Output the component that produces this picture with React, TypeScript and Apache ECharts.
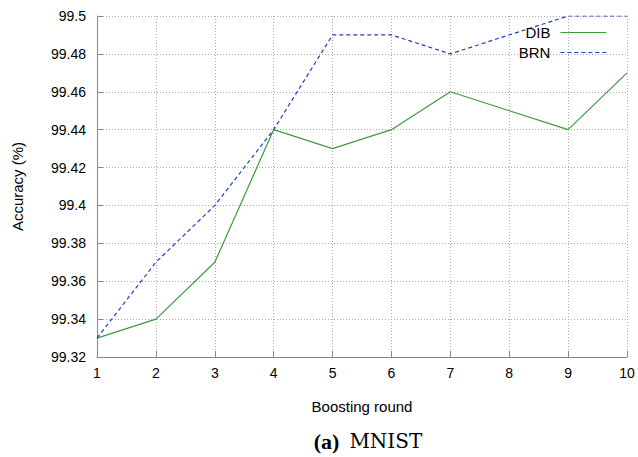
import React, { useEffect, useRef } from "react";
import * as echarts from "echarts";

const rounds = [1, 2, 3, 4, 5, 6, 7, 8, 9, 10];
const dibValues = [99.33, 99.34, 99.37, 99.44, 99.43, 99.44, 99.46, 99.45, 99.44, 99.47];
const brnValues = [99.33, 99.37, 99.40, 99.44, 99.49, 99.49, 99.48, 99.49, 99.50, 99.50];
const seriesNames = ["DIB", "BRN"];

export default function App() {
  const ref = useRef<HTMLDivElement>(null);
  useEffect(() => {
    const chart = echarts.init(ref.current!, null, { renderer: "svg" });
    const font = "Liberation Sans";
    chart.setOption({
      animation: false,
      textStyle: { fontFamily: font },
      grid: { left: 97, right: 11, top: 16, bottom: 100, containLabel: false },
      title: {
        text: "{b|(a)}  {n|MNIST}",
        left: 363,
        textAlign: "center",
        top: 425,
        textStyle: {
          fontWeight: "normal",
          rich: {
            b: { fontFamily: "Liberation Serif", fontWeight: "bold", fontSize: 22, color: "#000" },
            n: { fontFamily: "DejaVu Serif", fontWeight: "normal", fontSize: 20, color: "#000" },
          },
        },
      },
      legend: {
        orient: "vertical",
        right: 26,
        top: 20,
        align: "right",
        itemWidth: 46,
        itemHeight: 10,
        itemGap: 5,
        itemStyle: { opacity: 0 },
        lineStyle: { width: 1.2 },
        textStyle: { fontFamily: font, fontSize: 15, lineHeight: 10, color: "#000", padding: [0, 5, 0, 0] },
        data: seriesNames,
      },
      xAxis: {
        type: "value",
        min: 1,
        max: 10,
        interval: 1,
        name: "Boosting round",
        nameLocation: "middle",
        nameGap: 42,
        nameTextStyle: { fontFamily: font, fontSize: 15, color: "#000" },
        axisLine: { lineStyle: { color: "#888", width: 1 } },
        axisTick: { inside: true, length: 6, lineStyle: { color: "#888" } },
        axisLabel: { fontFamily: font, fontSize: 14, color: "#000", margin: 9 },
        splitLine: { show: true, lineStyle: { color: "#aaa", type: [1, 2], width: 1 } },
      },
      yAxis: {
        type: "value",
        min: 99.32,
        max: 99.5,
        interval: 0.02,
        name: "Accuracy (%)",
        nameLocation: "middle",
        nameGap: 72,
        nameTextStyle: { fontFamily: font, fontSize: 15, color: "#000" },
        axisLine: { show: true, lineStyle: { color: "#888", width: 1 } },
        axisTick: { show: true, inside: true, length: 6, lineStyle: { color: "#888" } },
        axisLabel: {
          fontFamily: font,
          fontSize: 14,
          color: "#000",
          margin: 11,
          formatter: (v: number) => String(parseFloat(v.toFixed(2))),
        },
        splitLine: { show: true, lineStyle: { color: "#aaa", type: [1, 2], width: 1 } },
      },
      series: [
        {
          name: seriesNames[0],
          type: "line",
          data: rounds.map((r, i) => [r, dibValues[i]]),
          symbol: "none",
          lineStyle: { color: "#3a9d3a", width: 1.2 },
          itemStyle: { color: "#3a9d3a" },
        },
        {
          name: seriesNames[1],
          type: "line",
          data: rounds.map((r, i) => [r, brnValues[i]]),
          symbol: "none",
          lineStyle: { color: "#1f3fc0", width: 1.2, type: [4, 3] },
          itemStyle: { color: "#1f3fc0" },
        },
      ],
    });
    return () => chart.dispose();
  }, []);
  return <div ref={ref} style={{ width: 638, height: 457, position: "absolute", left: 0, top: 0, background: "#fff" }} />;
}
